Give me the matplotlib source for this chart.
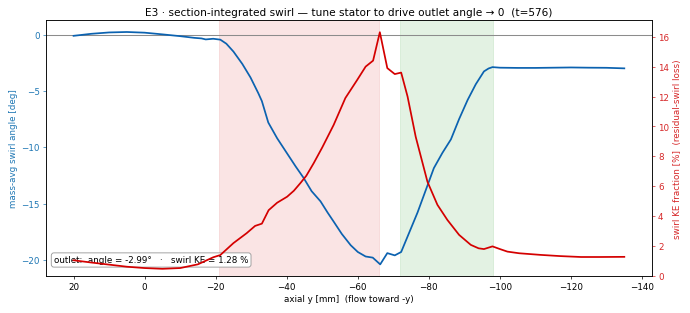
import numpy as np
import matplotlib
matplotlib.use("Agg")
import matplotlib.pyplot as plt

# swirl angle (left axis)
x_ang = [20, 15, 10, 5, 0, -5, -10, -14, -16, -17.2, -19.3, -21.3, -23, -25, -27.5,
         -29.8, -32, -33, -34.8, -37.3, -40, -42.5, -44.7, -47, -49.5, -51.5, -53.2,
         -55.5, -58, -60, -62.2, -64.2, -66.3, -68.3, -70.4, -72.2, -76.8, -81.4,
         -83.8, -86.2, -88.5, -90.9, -93.2, -95.5, -96.8, -97.9, -100, -105, -110,
         -115, -120, -125, -130, -135]
angle = [-0.10, 0.08, 0.20, 0.24, 0.18, 0.03, -0.13, -0.28, -0.33, -0.42, -0.36, -0.44,
         -0.8, -1.5, -2.6, -3.8, -5.2, -5.9, -7.8, -9.2, -10.5, -11.7, -12.7, -13.9,
         -14.8, -15.8, -16.6, -17.7, -18.7, -19.3, -19.7, -19.8, -20.4, -19.4, -19.6,
         -19.3, -15.8, -11.85, -10.5, -9.3, -7.5, -5.8, -4.4, -3.26, -3.0, -2.88,
         -2.93, -2.95, -2.95, -2.93, -2.91, -2.93, -2.94, -2.99]

# swirl KE fraction (right axis)
x_ke = [20, 15, 10, 5, 0, -5, -10, -15, -19.3, -21.3, -25, -28.7, -31.1, -33, -34.9,
        -37.3, -40.1, -42, -43.8, -45.5, -47.6, -50, -53.2, -56.5, -59.8, -62.2, -64.3,
        -66.2, -68.3, -70.4, -72.2, -74, -76.3, -79.6, -82.4, -85.2, -88.5, -91.8, -94,
        -95.5, -97.9, -100, -102.1, -105.4, -111.5, -117, -122.8, -128, -135]
ke = [1.05, 0.90, 0.76, 0.62, 0.53, 0.48, 0.53, 0.78, 1.25, 1.4, 2.2, 2.86, 3.35, 3.5,
      4.4, 4.9, 5.3, 5.7, 6.2, 6.7, 7.55, 8.6, 10.1, 11.9, 13.1, 14.0, 14.4, 16.3, 13.9,
      13.5, 13.6, 12.0, 9.3, 6.3, 4.76, 3.75, 2.75, 2.08, 1.85, 1.80, 1.98, 1.8, 1.63,
      1.52, 1.41, 1.33, 1.27, 1.27, 1.28]

stator_span = (-21, -66)
outlet_span = (-72, -98)

c_ang = "#0b62b0"
c_ke = "#d40000"

DPI = 690 / 11
fig = plt.figure(figsize=(11, 5), dpi=DPI)
ax = fig.add_axes([0.0667, 0.118, 0.878, 0.815])

ax.axvspan(*stator_span, color="tab:red", alpha=0.12)
ax.axvspan(*outlet_span, color="tab:green", alpha=0.13)
ax.axhline(0, color="0.55", lw=1.2)
ax.plot(x_ang, angle, color=c_ang, lw=2)
ax.invert_xaxis()
ax.set_xlabel("axial y [mm]  (flow toward -y)")
ax.set_ylabel("mass-avg swirl angle [deg]", color="#1f77b4")
ax.tick_params(axis="y", colors="#1f77b4")

ax2 = ax.twinx()
ax2.plot(x_ke, ke, color=c_ke, lw=2)
ax2.set_ylim(bottom=0)
ax2.set_ylabel("swirl KE fraction [%]  (residual-swirl loss)", color="#d62728")
ax2.tick_params(axis="y", colors="#d62728")

ax.text(0.013, 0.045, "outlet:  angle = %.2f°   ·   swirl KE = %.2f %%" % (angle[-1], ke[-1]),
        transform=ax.transAxes, va="bottom",
        bbox=dict(boxstyle="round,pad=0.3", fc="white", ec="0.6"))

ax.set_title("E3 · section-integrated swirl — tune stator to drive outlet angle → 0  (t=576)")

fig.savefig("out.png", dpi=DPI)
